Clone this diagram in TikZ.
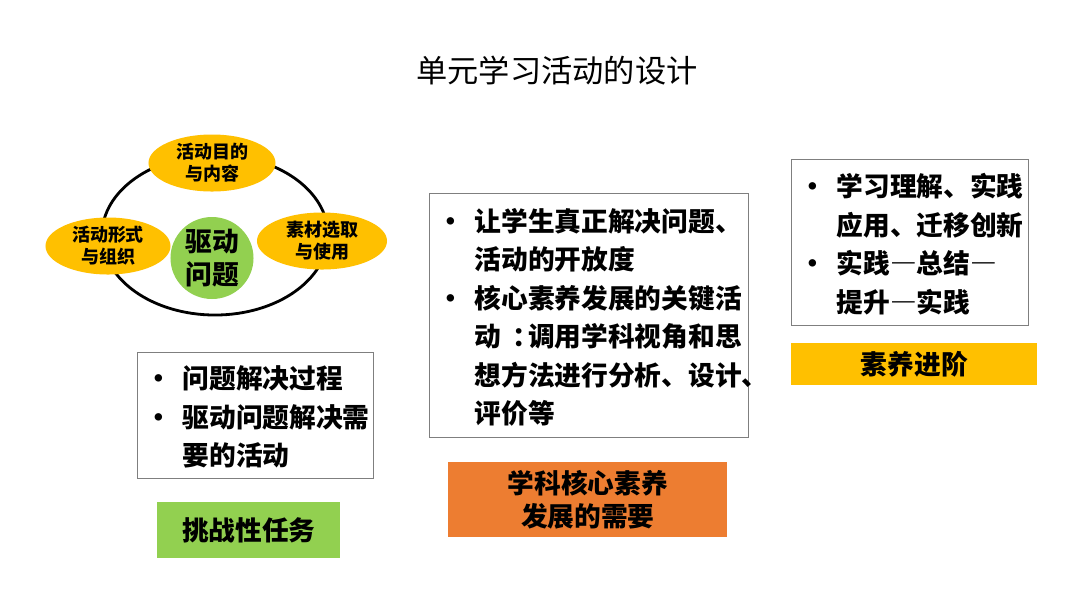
\documentclass[tikz,border=0pt]{standalone}
\usepackage{fontspec}
\setmainfont{Noto Sans CJK SC}
\usetikzlibrary{shapes.geometric}

\definecolor{psYellow}{HTML}{FFC000}
\definecolor{psGreen}{HTML}{92D050}
\definecolor{psOrange}{HTML}{ED7D31}
\definecolor{boxGray}{HTML}{7F7F7F}

% raya de ancho completo y dos puntos centrados
\newcommand{\qdash}{{\addfontfeature{CharacterWidth=Full}—}}
\newcommand{\qcolon}{\hspace{0.4em}\makebox[0.6em][l]{：}}
% lista un poco mas baja dentro de su caja
\newcommand{\lowlist}[1]{\raisebox{-0.1cm}[\height][\depth]{#1}}

\tikzset{
  bubble/.style={ellipse, fill=psYellow, minimum height=1.425cm, inner sep=0pt,
    align=center, font=\fontsize{12.8}{15.5}\selectfont\bfseries},
  listbox/.style={draw=boxGray, line width=0.9pt, anchor=north west, inner xsep=0.3cm,
    align=left, font=\fontsize{19}{27.4}\selectfont\bfseries},
  tagbox/.style={anchor=north west, inner sep=0pt, align=center,
    font=\fontsize{19}{22.8}\selectfont\bfseries}
}

\begin{document}
\begin{tikzpicture}[x=0.025cm, y=-0.025cm]
  % Marco de la diapositiva (1080 x 608)
  \useasboundingbox[fill=white] (0,0) rectangle (1080,608);

  % Titulo
  \node[font=\fontsize{22.2}{26}\selectfont] (title) at (557,71) {单元学习活动的设计};

  % Anillo exterior y las tres burbujas
  \node[ellipse, draw, line width=2pt, minimum width=5.65cm, minimum height=4cm] (ring) at (215,235) {};
  \node[bubble, minimum width=3.175cm] (goal) at (212,163) {活动目的\\与内容};
  \node[bubble, minimum width=3.125cm] (form) at (108,246) {活动形式\\与组织};
  \node[bubble, minimum width=3.25cm]  (res)  at (322,241) {素材选取\\与使用};

  % Centro: pregunta motriz
  \node[ellipse, fill=psGreen, minimum width=2.075cm, minimum height=1.75cm, inner sep=0pt,
        align=center, font=\fontsize{19}{23.5}\selectfont\bfseries] (core) at (212,258) {驱动\\问题};

  % Columna 1
  \node[listbox, minimum width=5.9cm, minimum height=3.15cm, text width=5.3cm] (list1) at (137,352)
    {\lowlist{\begin{tabular}{@{\hspace{-0.1cm}}p{0.925cm}@{}l@{}}
      \textbullet & 问题解决过程\\
      \textbullet & 驱动问题解决需\\
                  & 要的活动
     \end{tabular}}};
  \node[tagbox, fill=psGreen, minimum width=4.575cm, minimum height=1.4cm] (task) at (157,502) {挑战性任务};

  % Columna 2
  \node[listbox, minimum width=7.975cm, minimum height=6.1cm, text width=7.375cm] (list2) at (429,193)
    {\lowlist{\begin{tabular}{@{\hspace{-0.1cm}}p{0.925cm}@{}l@{}}
      \textbullet & 让学生真正解决问题、\\
                  & 活动的开放度\\
      \textbullet & 核心素养发展的关键活\\
                  & 动\qcolon 调用学科视角和思\\
                  & 想方法进行分析、设计、\\
                  & 评价等
     \end{tabular}}};
  \node[tagbox, fill=psOrange, minimum width=6.975cm, minimum height=1.875cm] (need) at (448,462) {学科核心素养\\发展的需要};

  % Columna 3
  \node[listbox, minimum width=5.925cm, minimum height=4.15cm, text width=5.325cm] (list3) at (791,159)
    {\lowlist{\begin{tabular}{@{\hspace{-0.1cm}}p{0.925cm}@{}l@{}}
      \textbullet & 学习理解、实践\\
                  & 应用、迁移创新\\
      \textbullet & 实践\qdash 总结\qdash\\
                  & 提升\qdash 实践
     \end{tabular}}};
  \node[tagbox, fill=psYellow, minimum width=6.15cm, minimum height=1.05cm] (step3) at (791,343) {素养进阶};
\end{tikzpicture}
\end{document}
